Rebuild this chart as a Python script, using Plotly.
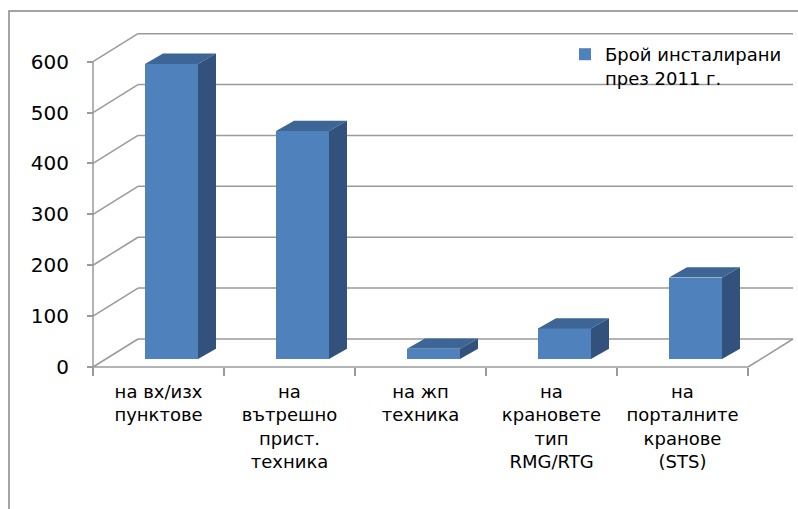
import plotly.graph_objects as go

# ---- data ----
categories = ["на вх/изх<br>пунктове", "на<br>вътрешно<br>прист.<br>техника",
              "на жп<br>техника", "на<br>крановете<br>тип<br>RMG/RTG",
              "на<br>порталните<br>кранове<br>(STS)"]
values = [580, 448, 20, 60, 160]
series_name = "Брой инсталирани<br>през 2011 г."
y_ticks = [0, 100, 200, 300, 400, 500, 600]

# ---- geometry (pixel constants converted to axis units) ----
W, H = 798, 509
X0PX, Y0PX = 93, 367          # front-floor origin in pixels
PXX, PXY = 131.0, 0.5088      # px per category, px per value unit
n = len(categories)
DXB, DYB = 45 / PXX, 28 / PXY      # back wall depth offset
DXF, DYF = 13 / PXX, 8 / PXY       # bar front-face depth offset
DXD, DYD = 18 / PXX, 10.3 / PXY    # bar depth
BW = 53 / PXX                      # bar width

GRID = "#9a9a9a"
FRONT, TOP, SIDE = "#4F81BD", "#3D6595", "#32527D"

shapes = []
def seg(x0, y0, x1, y1):
    shapes.append(dict(type="line", xref="x", yref="y", x0=x0, y0=y0, x1=x1, y1=y1,
                       line=dict(color=GRID, width=1.5), layer="below"))

for v in y_ticks:
    seg(0, v, DXB, v + DYB)
    seg(DXB, v + DYB, n + DXB, v + DYB)
seg(0, 0, 0, max(y_ticks))
seg(0, 0, n, 0)
seg(n, 0, n + DXB, DYB)

# outer chart border
shapes.append(dict(type="rect", xref="paper", yref="paper", x0=9 / W, x1=1.05,
                   y0=-0.05, y1=1 - 11 / H, line=dict(color="#868686", width=1.5),
                   layer="below"))

fig = go.Figure()
xs = [i + 0.5 + DXF for i in range(n)]
fig.add_trace(go.Bar(x=xs, y=values, base=[DYF] * n, width=BW, name=series_name,
                     marker=dict(color=FRONT, line=dict(width=0)), showlegend=True,
                     hoverinfo="skip"))

for xc, v in zip(xs, values):
    xl, xr = xc - BW / 2, xc + BW / 2
    top = DYF + v
    fig.add_trace(go.Scatter(x=[xl, xr, xr + DXD, xl + DXD, xl],
                             y=[top, top, top + DYD, top + DYD, top],
                             fill="toself", fillcolor=TOP, mode="lines",
                             line=dict(width=0, color=TOP), showlegend=False,
                             hoverinfo="skip"))
    fig.add_trace(go.Scatter(x=[xr, xr + DXD, xr + DXD, xr, xr],
                             y=[DYF, DYF + DYD, top + DYD, top, DYF],
                             fill="toself", fillcolor=SIDE, mode="lines",
                             line=dict(width=0, color=SIDE), showlegend=False,
                             hoverinfo="skip"))

fig.update_layout(
    width=W, height=H, margin=dict(l=0, r=0, t=0, b=0),
    paper_bgcolor="white", plot_bgcolor="white",
    font=dict(family="DejaVu Sans", color="black", size=18),
    shapes=shapes,
    showlegend=True,
    legend=dict(x=565 / W, y=1 - 36 / H, xanchor="left", yanchor="top",
                bgcolor="rgba(0,0,0,0)", font=dict(size=18), valign="top"),
    xaxis=dict(range=[-X0PX / PXX, (W - X0PX) / PXX], anchor="free",
               position=(H - Y0PX) / H, tickmode="array",
               tickvals=[i + 0.5 for i in range(n)], ticktext=categories,
               ticks="", showgrid=False, zeroline=False, showline=False,
               tickfont=dict(size=18), ticklabelstandoff=12,
               minor=dict(tickmode="array", tickvals=list(range(n + 1)), ticks="outside",
                          ticklen=8, tickcolor=GRID, tickwidth=1.5, showgrid=False)),
    yaxis=dict(range=[-(H - Y0PX) / PXY, Y0PX / PXY], anchor="free",
               position=X0PX / W, tickmode="array", tickvals=y_ticks,
               ticks="outside", ticklen=6, tickcolor=GRID, tickwidth=1.5,
               showgrid=False, zeroline=False, showline=False,
               tickfont=dict(size=20), ticklabelstandoff=14),
    bargap=0,
)

fig.write_html("out.html")
